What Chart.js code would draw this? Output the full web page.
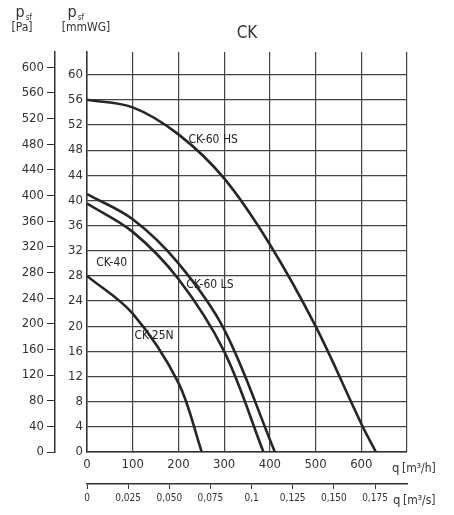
<!DOCTYPE html>
<html><head><meta charset="utf-8">
<script src="https://cdn.jsdelivr.net/npm/chart.js@4.4.0/dist/chart.umd.min.js"></script>
<style>html,body{margin:0;padding:0;background:#fff}#w{width:454px;height:515px}</style>
</head><body><div id="w"><canvas id="c"></canvas></div>
<script>
const hs_q=[0,100,200,300,400,500,600,632], hs_p=[56,54.8,50.5,43.5,33,20,4.5,0];
const ls_q=[0,100,200,300,411], ls_p=[41,37,30,19.5,0];
const c40_q=[0,100,200,300,386], c40_p=[39.5,35,27.5,16,0];
const c25_q=[0,100,200,251], c25_p=[28,22,11,0];
const paTicks=[0,40,80,120,160,200,240,280,320,360,400,440,480,520,560,600];
const mmTicks=[0,4,8,12,16,20,24,28,32,36,40,44,48,52,56,60];
const qhTicks=[0,100,200,300,400,500,600,700];
const qhLabels=['0','100','200','300','400','500','600',''];
const qsTicks=[0,0.025,0.05,0.075,0.1,0.125,0.15,0.175];
const qsLabels=['0','0,025','0,050','0,075','0,1','0,125','0,150','0,175'];
const curveLabels=[['CK-60 HS',222,49.6],['CK-60 LS',217,26.5],['CK-40',20,30],['CK-25N',104,18.4]];
const YMAX=63.6, PA=9.81;
const F="'DejaVu Sans Condensed','DejaVu Sans',sans-serif";
const pts=(q,p)=>q.map((v,i)=>({x:v,y:p[i]}));
const ds=(q,p)=>({data:pts(q,p),borderColor:'#262626',borderWidth:2.6,pointRadius:0,tension:0.35,fill:false});
const txt={id:'txt',afterDraw(ch){const c=ch.ctx,x=ch.scales.x,y=ch.scales.y;c.save();c.fillStyle='#333';
c.font="17px "+F;c.textAlign='center';c.fillText('CK',247,38);
c.font="16px "+F;c.fillText('p',20,17);c.fillText('p',72,17);
c.font="8px "+F;c.fillText('sf',29,20);c.fillText('sf',81,20);
c.font="12px "+F;c.fillText('[Pa]',22,31);c.fillText('[mmWG]',86,31);
c.textAlign='left';c.font="13px "+F;c.fillText('q',392,472);c.fillText('q',393,504);
c.font="12px "+F;c.fillText('[m³/h]',402,472);c.fillText('[m³/s]',403,504);
c.font="12px "+F;c.fillStyle='#222';c.textBaseline='middle';
curveLabels.forEach(l=>{c.fillText(l[0],x.getPixelForValue(l[1]),y.getPixelForValue(l[2]));});
c.restore();}};
const tk={color:'#333',font:{family:F,size:13}};
new Chart(document.getElementById('c'),{type:'scatter',
data:{datasets:[ds(hs_q,hs_p),ds(ls_q,ls_p),ds(c40_q,c40_p),ds(c25_q,c25_p)].map(d=>Object.assign(d,{showLine:true,xAxisID:'x',yAxisID:'y'}))},
options:{animation:false,responsive:true,maintainAspectRatio:false,
layout:{padding:{top:52,right:47,bottom:5,left:0}},
plugins:{legend:{display:false},tooltip:{enabled:false}},
scales:{
x:{type:'linear',position:'bottom',min:0,max:700,afterBuildTicks:a=>{a.ticks=qhTicks.map(v=>({value:v}))},
 ticks:Object.assign({},tk,{padding:5,callback:(v,i)=>qhLabels[i]}),grid:{color:'#444',lineWidth:1.2,drawTicks:false},border:{color:'#333',width:1.5},
 afterFit:a=>{a.height=32}},
x2:{type:'linear',position:'bottom',min:0,max:700/3600,afterBuildTicks:a=>{a.ticks=qsTicks.map(v=>({value:v}))},
 ticks:Object.assign({},tk,{font:{family:F,size:10},callback:(v,i)=>qsLabels[i]}),grid:{drawOnChartArea:false,color:'#333',tickLength:5},border:{color:'#333',width:1.5},
 afterFit:a=>{a.height=26}},
y:{type:'linear',position:'left',min:0,max:YMAX,afterBuildTicks:a=>{a.ticks=mmTicks.map(v=>({value:v}))},
 ticks:Object.assign({},tk,{padding:4}),grid:{color:'#444',lineWidth:1.2,drawTicks:false},border:{color:'#333',width:1.5},
 afterFit:a=>{a.width=32}},
pa:{type:'linear',position:'left',min:0,max:YMAX*PA,afterBuildTicks:a=>{a.ticks=paTicks.map(v=>({value:v}))},
 ticks:Object.assign({},tk,{padding:3}),grid:{drawOnChartArea:false,color:'#333',tickLength:8},border:{color:'#333',width:1.5},
 afterFit:a=>{a.width=55}}
}},plugins:[txt]});
</script></body></html>
